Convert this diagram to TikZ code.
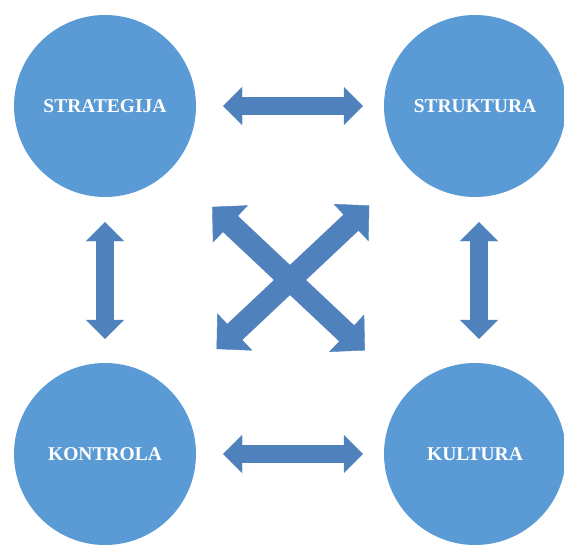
\documentclass[tikz,border=0pt]{standalone}
\usepackage{fontspec}
\setmainfont{Liberation Serif}
\usetikzlibrary{arrows.meta}
\definecolor{discblue}{RGB}{91,155,213}
\definecolor{arrowblue}{RGB}{79,129,189}
\tikzset{
  disc/.style={circle, fill=discblue, draw=none, minimum size=182pt, inner sep=0pt,
    text=white, font=\fontsize{19.5}{22}\selectfont\bfseries},
  % block arrows: a thick shaft plus two heads on a thin guide line
  sideshaft/.style={draw=arrowblue, line width=18pt},
  sideheads/.style={draw=arrowblue, line width=0.4pt,
    {Triangle[length=19pt,width=38pt]}-{Triangle[length=19pt,width=38pt]}},
  crossshaft/.style={draw=arrowblue, line width=22pt},
  crossheads/.style={draw=arrowblue, line width=0.4pt,
    {Triangle[length=25pt,width=51pt]}-{Triangle[length=25pt,width=51pt]}}
}
\begin{document}
\begin{tikzpicture}[x=1pt,y=-1pt]
  \useasboundingbox (0,0) rectangle (564,545);
  \clip (0,0) rectangle (564,545);
  \fill[white] (0,0) rectangle (564,545);

  % the four elements
  \node[disc] (strat)  at (105,106) {STRATEGIJA};
  \node[disc] (strukt) at (475,106) {STRUKTURA};
  \node[disc] (kontr)  at (105,454) {KONTROLA};
  \node[disc] (kult)   at (475,454) {KULTURA};

  % links along the sides
  \draw[sideheads, shorten <=27pt, shorten >=21pt] (strat) -- (strukt);
  \draw[sideshaft, shorten <=44pt, shorten >=38pt] (strat) -- (strukt);
  \draw[sideheads, shorten <=27pt, shorten >=21pt] (kontr) -- (kult);
  \draw[sideshaft, shorten <=44pt, shorten >=38pt] (kontr) -- (kult);
  \draw[sideheads, shorten <=25pt, shorten >=24pt] (strat) -- (kontr);
  \draw[sideshaft, shorten <=42pt, shorten >=41pt] (strat) -- (kontr);
  \draw[sideheads, shorten <=25pt, shorten >=24pt]
    ([xshift=4pt]strukt.south) -- ([xshift=4pt]kult.north);
  \draw[sideshaft, shorten <=42pt, shorten >=41pt]
    ([xshift=4pt]strukt.south) -- ([xshift=4pt]kult.north);

  % diagonal links forming the cross
  \draw[crossheads, shorten <=56pt, shorten >=60pt] (strat) -- (kult);
  \draw[crossshaft, shorten <=79pt, shorten >=83pt] (strat) -- (kult);
  \draw[crossheads, shorten <=62pt, shorten >=54pt] (kontr) -- (strukt);
  \draw[crossshaft, shorten <=85pt, shorten >=77pt] (kontr) -- (strukt);
\end{tikzpicture}
\end{document}
